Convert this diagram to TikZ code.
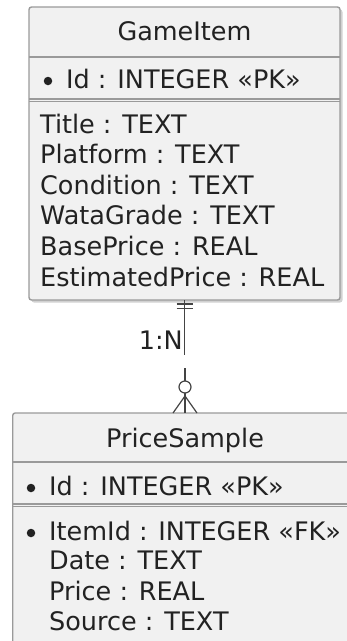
\documentclass[tikz,border=0pt]{standalone}
\usepackage{fontspec}
\setmainfont{DejaVu Sans}
\usetikzlibrary{calc}
\definecolor{boxfill}{HTML}{F1F1F1}
\definecolor{boxline}{HTML}{9A9A9A}
\definecolor{inkcol}{HTML}{222222}
\definecolor{linkcol}{HTML}{444444}
\begin{document}
\begin{tikzpicture}[x=1pt,y=-1pt,
  entity/.style={draw=boxline, line width=1.4pt, fill=boxfill, rounded corners=2.5pt,
    anchor=north west, inner sep=0pt, outer sep=0pt},
  shade/.style={fill=black!18, rounded corners=2.5pt, draw=none},
  sep/.style={draw=boxline, line width=1.2pt},
  field/.style={anchor=base west, inner sep=0pt, text=inkcol,
    font=\fontsize{25.5}{30}\selectfont},
  title/.style={anchor=base, inner sep=0pt, text=inkcol,
    font=\fontsize{25.5}{30}\selectfont},
  key/.style={fill=inkcol, draw=none, circle, inner sep=0pt, minimum size=8.5pt},
  link/.style={draw=linkcol, line width=1.2pt}]
\useasboundingbox (0,0) rectangle (347,641);
\clip (0,0) rectangle (347,641);

% --- GameItem ---
\fill[shade] (31.5,9.5) rectangle (342.5,302.5);
\node[entity, minimum width=311pt, minimum height=293pt] (gi) at (29,7) {};
\draw[sep] (29,57) -- (340,57);
\draw[sep] (29,99) -- (340,99);
\draw[sep] (29,101.5) -- (340,101.5);
\node[title] (giname) at (184.5,40) {GameItem};
\node[key] (gikey) at (48,81) {};
\node[field] (giid) at (66,88) {Id : INTEGER «PK»};
\node[field] (f1) at (40,133) {Title : TEXT};
\node[field] (f2) at (40,163.6) {Platform : TEXT};
\node[field] (f3) at (40,194.2) {Condition : TEXT};
\node[field] (f4) at (40,224.8) {WataGrade : TEXT};
\node[field] (f5) at (40,255.4) {BasePrice : REAL};
\node[field] (f6) at (40,286) {EstimatedPrice : REAL};

% --- PriceSample ---
\fill[shade] (15.2,415.5) rectangle (360,660);
\node[entity, minimum width=344.6pt, minimum height=240pt] (ps) at (12.7,413) {};
\draw[sep] (12.7,462) -- (357.3,462);
\draw[sep] (12.7,504) -- (357.3,504);
\draw[sep] (12.7,506.5) -- (357.3,506.5);
\node[title] (psname) at (185,447) {PriceSample};
\node[key] (pskey) at (31,488) {};
\node[field] (psid) at (49,495) {Id : INTEGER «PK»};
\node[key] (fkkey) at (31,533) {};
\node[field] (g1) at (49,540) {ItemId : INTEGER «FK»};
\node[field] (g2) at (49,569.5) {Date : TEXT};
\node[field] (g3) at (49,600) {Price : REAL};
\node[field] (g4) at (49,630) {Source : TEXT};

% --- relationship: exactly one GameItem to zero or more PriceSample ---
\coordinate (top) at (gi.south);
\coordinate (bot) at (ps.north);
\coordinate (brk1) at ($(top)+(0,55)$);
\coordinate (brk2) at ($(bot)+(0,-45)$);
\coordinate (ring) at ($(bot)+(0,-26)$);
\coordinate (foot) at ($(bot)+(0,-17)$);
\draw[link] (top) -- (brk1);
\draw[link] (brk2) -- ($(ring)+(0,-6)$);
\draw[link] (ring) circle[radius=6pt];
\draw[link] ($(ring)+(0,6)$) -- (bot);
\draw[link] ($(top)+(-8,4)$) -- ($(top)+(8,4)$);
\draw[link] ($(top)+(-8,8.5)$) -- ($(top)+(8,8.5)$);
\draw[link] (foot) -- ($(bot)+(-12,0)$);
\draw[link] (foot) -- ($(bot)+(12,0)$);
\node[anchor=base east, inner sep=0pt, text=inkcol, font=\fontsize{25.5}{30}\selectfont]
  (card) at ($(top)+(-1.5,49)$) {1:N};
\end{tikzpicture}
\end{document}
